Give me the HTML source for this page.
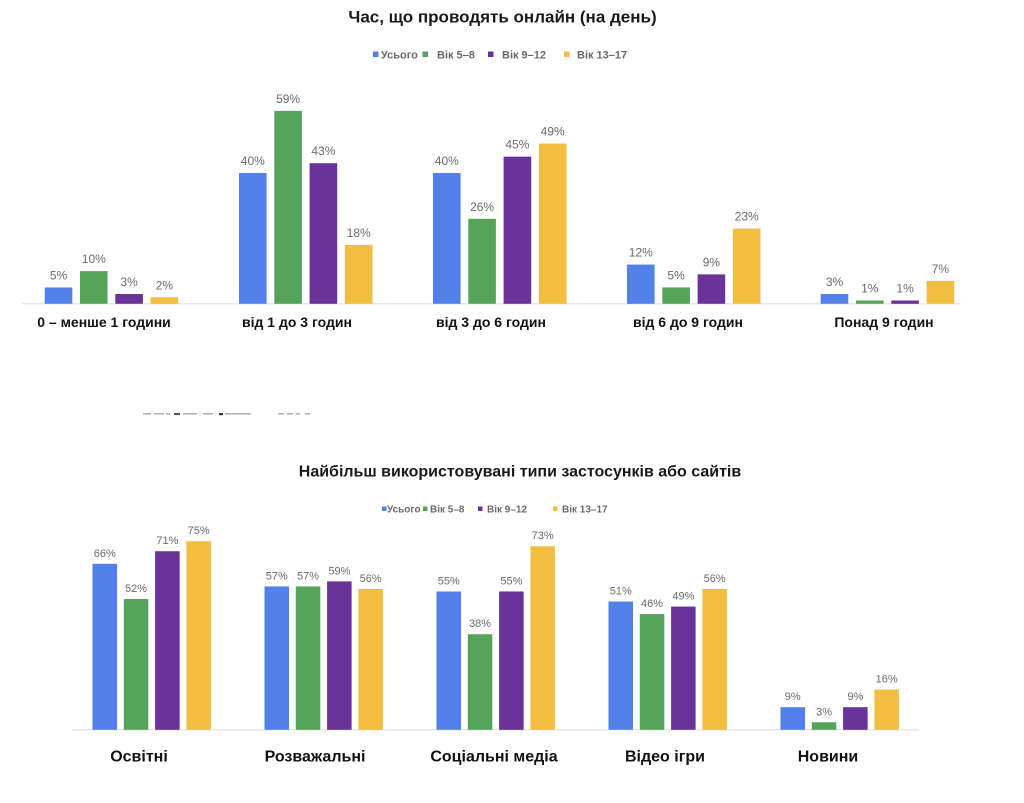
<!DOCTYPE html>
<html>
<head>
<meta charset="utf-8">
<style>
html,body{margin:0;padding:0;background:#fff;}
svg{display:block;}
text{font-family:"Liberation Sans","Noto Sans CJK SC",sans-serif;}
.t{font-weight:bold;fill:#1a1a1a;}
.v{fill:#6b6b6b;}
.lg{font-weight:bold;fill:#6a6a6a;}
.c{font-weight:bold;fill:#111;}
</style>
</head>
<body>
<svg width="1024" height="803" viewBox="0 0 1024 803" xmlns="http://www.w3.org/2000/svg">
<rect width="1024" height="803" fill="#fff"/>

<!-- TOP CHART -->
<text class="t" x="502.5" y="22.5" font-size="17" text-anchor="middle">Час, що проводять онлайн (на день)</text>

<!-- legend top -->
<rect x="373" y="51.5" width="5.5" height="5.5" fill="#5282e9"/>
<text class="lg" x="381" y="58.3" font-size="11">Усього</text>
<rect x="422.5" y="51.5" width="5.5" height="5.5" fill="#56a45b"/>
<text class="lg" x="437" y="58.3" font-size="11">Вік 5–8</text>
<rect x="488" y="51.5" width="5.5" height="5.5" fill="#6a3399"/>
<text class="lg" x="502" y="58.3" font-size="11">Вік 9–12</text>
<rect x="564" y="51.5" width="5.5" height="5.5" fill="#f1be41"/>
<text class="lg" x="577" y="58.3" font-size="11">Вік 13–17</text>

<line x1="22" y1="303.8" x2="961" y2="303.8" stroke="#e0e0e0" stroke-width="1.2"/>

<g id="top-bars">
<!-- G1: 5,10,3,2 ; x start 44.7 -->
<rect x="44.7" y="287.45" width="27.6" height="16.35" fill="#5282e9"/>
<rect x="80.0" y="271.1" width="27.6" height="32.7" fill="#56a45b"/>
<rect x="115.3" y="293.99" width="27.6" height="9.81" fill="#6a3399"/>
<rect x="150.6" y="297.26" width="27.6" height="6.54" fill="#f1be41"/>
<text class="v" font-size="12" text-anchor="middle" x="58.5" y="279.5">5%</text>
<text class="v" font-size="12" text-anchor="middle" x="93.8" y="263.1">10%</text>
<text class="v" font-size="12" text-anchor="middle" x="129.1" y="286">3%</text>
<text class="v" font-size="12" text-anchor="middle" x="164.4" y="289.3">2%</text>

<!-- G2: 40,59,43,18 ; x 239 -->
<rect x="239" y="172.99" width="27.6" height="130.8" fill="#5282e9"/>
<rect x="274.3" y="110.87" width="27.6" height="192.93" fill="#56a45b"/>
<rect x="309.6" y="163.19" width="27.6" height="140.61" fill="#6a3399"/>
<rect x="344.9" y="244.94" width="27.6" height="58.86" fill="#f1be41"/>
<text class="v" font-size="12" text-anchor="middle" x="252.8" y="165">40%</text>
<text class="v" font-size="12" text-anchor="middle" x="288.1" y="102.9">59%</text>
<text class="v" font-size="12" text-anchor="middle" x="323.4" y="155.2">43%</text>
<text class="v" font-size="12" text-anchor="middle" x="358.7" y="236.9">18%</text>

<!-- G3: 40,26,45,49 ; x 433 -->
<rect x="433" y="172.99" width="27.6" height="130.8" fill="#5282e9"/>
<rect x="468.3" y="218.78" width="27.6" height="85.02" fill="#56a45b"/>
<rect x="503.6" y="156.65" width="27.6" height="147.15" fill="#6a3399"/>
<rect x="538.9" y="143.57" width="27.6" height="160.23" fill="#f1be41"/>
<text class="v" font-size="12" text-anchor="middle" x="446.8" y="165">40%</text>
<text class="v" font-size="12" text-anchor="middle" x="482.1" y="210.8">26%</text>
<text class="v" font-size="12" text-anchor="middle" x="517.4" y="148.6">45%</text>
<text class="v" font-size="12" text-anchor="middle" x="552.7" y="135.6">49%</text>

<!-- G4: 12,5,9,23 ; x 627 -->
<rect x="627" y="264.56" width="27.6" height="39.24" fill="#5282e9"/>
<rect x="662.3" y="287.45" width="27.6" height="16.35" fill="#56a45b"/>
<rect x="697.6" y="274.37" width="27.6" height="29.43" fill="#6a3399"/>
<rect x="732.9" y="228.59" width="27.6" height="75.21" fill="#f1be41"/>
<text class="v" font-size="12" text-anchor="middle" x="640.8" y="256.6">12%</text>
<text class="v" font-size="12" text-anchor="middle" x="676.1" y="279.5">5%</text>
<text class="v" font-size="12" text-anchor="middle" x="711.4" y="266.4">9%</text>
<text class="v" font-size="12" text-anchor="middle" x="746.7" y="220.6">23%</text>

<!-- G5: 3,1,1,7 ; x 820.7 -->
<rect x="820.7" y="293.99" width="27.6" height="9.81" fill="#5282e9"/>
<rect x="856.0" y="300.53" width="27.6" height="3.27" fill="#56a45b"/>
<rect x="891.3" y="300.53" width="27.6" height="3.27" fill="#6a3399"/>
<rect x="926.6" y="280.91" width="27.6" height="22.89" fill="#f1be41"/>
<text class="v" font-size="12" text-anchor="middle" x="834.5" y="286">3%</text>
<text class="v" font-size="12" text-anchor="middle" x="869.8" y="292.5">1%</text>
<text class="v" font-size="12" text-anchor="middle" x="905.1" y="292.5">1%</text>
<text class="v" font-size="12" text-anchor="middle" x="940.4" y="272.9">7%</text>
</g>

<text class="c" font-size="14" text-anchor="middle" x="104" y="327">0 – менше 1 години</text>
<text class="c" font-size="14" text-anchor="middle" x="297" y="327">від 1 до 3 годин</text>
<text class="c" font-size="14" text-anchor="middle" x="491" y="327">від 3 до 6 годин</text>
<text class="c" font-size="14" text-anchor="middle" x="688" y="327">від 6 до 9 годин</text>
<text class="c" font-size="14" text-anchor="middle" x="884" y="327">Понад 9 годин</text>

<!-- cut-off text line fragments -->
<g fill="#b5b5b5">
<rect x="143" y="413" width="8" height="1.6"/>
<rect x="154" y="413" width="10" height="1.6"/>
<rect x="166" y="413" width="4" height="1.6"/>
<rect x="174" y="413" width="6" height="2" fill="#555"/>
<rect x="183" y="413" width="14" height="1.6"/>
<rect x="203" y="413" width="10" height="1.6"/>
<rect x="219" y="413" width="4" height="2.2" fill="#333"/>
<rect x="225" y="413" width="26" height="1.6"/>
<rect x="278" y="413" width="6" height="1.6"/>
<rect x="287" y="413" width="6" height="1.6"/>
<rect x="296" y="413" width="4" height="1.6"/>
<rect x="305" y="413" width="5" height="1.6"/>
</g>

<!-- BOTTOM CHART -->
<text class="t" x="520" y="476.5" font-size="16" text-anchor="middle">Найбільш використовувані типи застосунків або сайтів</text>

<rect x="382" y="506.5" width="4.5" height="4.5" fill="#5282e9"/>
<text class="lg" x="387" y="512.5" font-size="10">Усього</text>
<rect x="423" y="506.5" width="4.5" height="4.5" fill="#56a45b"/>
<text class="lg" x="430" y="512.5" font-size="10">Вік 5–8</text>
<rect x="478" y="506.5" width="4.5" height="4.5" fill="#6a3399"/>
<text class="lg" x="487" y="512.5" font-size="10">Вік 9–12</text>
<rect x="553" y="506.5" width="4.5" height="4.5" fill="#f1be41"/>
<text class="lg" x="562" y="512.5" font-size="10">Вік 13–17</text>

<line x1="72" y1="729.8" x2="919" y2="729.8" stroke="#e0e0e0" stroke-width="1.2"/>

<g id="bottom-bars">
<!-- Освітні 66,52,71,75 ; x 92.5 -->
<rect x="92.5" y="563.81" width="24.5" height="165.99" fill="#5282e9"/>
<rect x="123.8" y="599.02" width="24.5" height="130.78" fill="#56a45b"/>
<rect x="155.1" y="551.23" width="24.5" height="178.57" fill="#6a3399"/>
<rect x="186.4" y="541.18" width="24.5" height="188.62" fill="#f1be41"/>
<text class="v" font-size="11" text-anchor="middle" x="104.75" y="556.8">66%</text>
<text class="v" font-size="11" text-anchor="middle" x="136.05" y="592">52%</text>
<text class="v" font-size="11" text-anchor="middle" x="167.35" y="544.2">71%</text>
<text class="v" font-size="11" text-anchor="middle" x="198.65" y="534.2">75%</text>

<!-- Розважальні 57,57,59,56 ; x 264.5 -->
<rect x="264.5" y="586.44" width="24.5" height="143.36" fill="#5282e9"/>
<rect x="295.8" y="586.44" width="24.5" height="143.36" fill="#56a45b"/>
<rect x="327.1" y="581.41" width="24.5" height="148.39" fill="#6a3399"/>
<rect x="358.4" y="588.96" width="24.5" height="140.84" fill="#f1be41"/>
<text class="v" font-size="11" text-anchor="middle" x="276.75" y="579.4">57%</text>
<text class="v" font-size="11" text-anchor="middle" x="308.05" y="579.4">57%</text>
<text class="v" font-size="11" text-anchor="middle" x="339.35" y="574.4">59%</text>
<text class="v" font-size="11" text-anchor="middle" x="370.65" y="582">56%</text>

<!-- Соціальні медіа 55,38,55,73 ; x 436.5 -->
<rect x="436.5" y="591.47" width="24.5" height="138.33" fill="#5282e9"/>
<rect x="467.8" y="634.23" width="24.5" height="95.57" fill="#56a45b"/>
<rect x="499.1" y="591.47" width="24.5" height="138.33" fill="#6a3399"/>
<rect x="530.4" y="546.21" width="24.5" height="183.59" fill="#f1be41"/>
<text class="v" font-size="11" text-anchor="middle" x="448.75" y="584.5">55%</text>
<text class="v" font-size="11" text-anchor="middle" x="480.05" y="627.2">38%</text>
<text class="v" font-size="11" text-anchor="middle" x="511.35" y="584.5">55%</text>
<text class="v" font-size="11" text-anchor="middle" x="542.65" y="539.2">73%</text>

<!-- Відео ігри 51,46,49,56 ; x 608.5 -->
<rect x="608.5" y="601.53" width="24.5" height="128.27" fill="#5282e9"/>
<rect x="639.8" y="614.11" width="24.5" height="115.69" fill="#56a45b"/>
<rect x="671.1" y="606.56" width="24.5" height="123.24" fill="#6a3399"/>
<rect x="702.4" y="588.96" width="24.5" height="140.84" fill="#f1be41"/>
<text class="v" font-size="11" text-anchor="middle" x="620.75" y="594.5">51%</text>
<text class="v" font-size="11" text-anchor="middle" x="652.05" y="607.1">46%</text>
<text class="v" font-size="11" text-anchor="middle" x="683.35" y="599.6">49%</text>
<text class="v" font-size="11" text-anchor="middle" x="714.65" y="582">56%</text>

<!-- Новини 9,3,9,16 ; x 780.5 -->
<rect x="780.5" y="707.17" width="24.5" height="22.63" fill="#5282e9"/>
<rect x="811.8" y="722.26" width="24.5" height="7.54" fill="#56a45b"/>
<rect x="843.1" y="707.17" width="24.5" height="22.63" fill="#6a3399"/>
<rect x="874.4" y="689.56" width="24.5" height="40.24" fill="#f1be41"/>
<text class="v" font-size="11" text-anchor="middle" x="792.75" y="700.2">9%</text>
<text class="v" font-size="11" text-anchor="middle" x="824.05" y="715.3">3%</text>
<text class="v" font-size="11" text-anchor="middle" x="855.35" y="700.2">9%</text>
<text class="v" font-size="11" text-anchor="middle" x="886.65" y="682.6">16%</text>
</g>

<text class="c" font-size="16" text-anchor="middle" x="139" y="761.5">Освітні</text>
<text class="c" font-size="16" text-anchor="middle" x="315" y="761.5">Розважальні</text>
<text class="c" font-size="16" text-anchor="middle" x="494" y="761.5">Соціальні медіа</text>
<text class="c" font-size="16" text-anchor="middle" x="665" y="761.5">Відео ігри</text>
<text class="c" font-size="16" text-anchor="middle" x="828" y="761.5">Новини</text>
</svg>
</body>
</html>
